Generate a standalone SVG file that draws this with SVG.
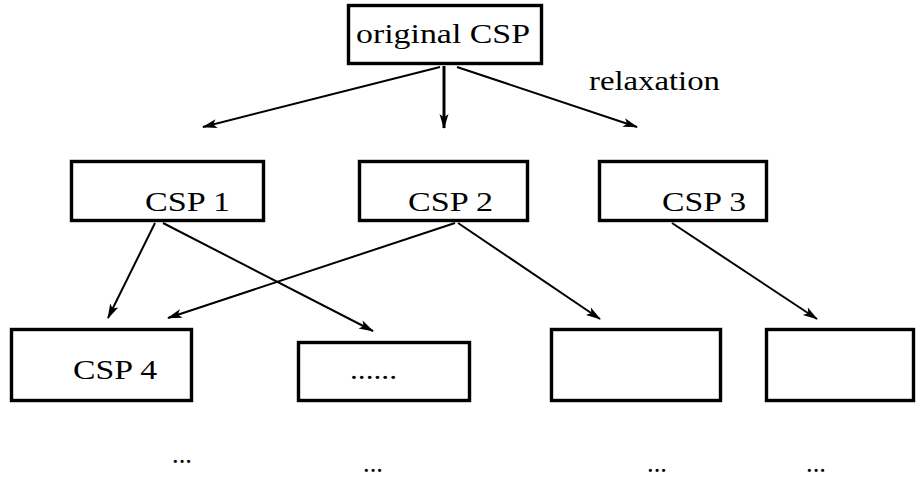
<svg xmlns="http://www.w3.org/2000/svg" width="916" height="482" viewBox="0 0 916 482">
<defs>
<style>
.box{fill:none;stroke:#000;stroke-width:3.4}
.t{font-family:"Liberation Serif","Times New Roman",serif;font-size:28px;fill:#000}
.c{stroke:#000;stroke-width:2;fill:none;marker-end:url(#ah)}
</style>
<marker id="ah" markerUnits="userSpaceOnUse" markerWidth="20" markerHeight="14" viewBox="-16 -7 18 14" refX="0" refY="0" orient="auto">
<path d="M1,0 L-14,-4.5 L-10.5,0 L-14,4.5 z" fill="#000"/>
</marker>
</defs>
<rect width="916" height="482" fill="#fff"/>
<g id="connectors">
<line class="c" x1="440" y1="67" x2="203" y2="127"/>
<line class="c" x1="444" y1="66" x2="444" y2="128" style="stroke-width:3"/>
<line class="c" x1="457" y1="67" x2="637" y2="127"/>
<line class="c" x1="155" y1="223" x2="108" y2="318"/>
<line class="c" x1="163" y1="223" x2="373" y2="331"/>
<line class="c" x1="455" y1="223" x2="168" y2="318"/>
<line class="c" x1="458" y1="223" x2="600" y2="319"/>
<line class="c" x1="672" y1="223" x2="817" y2="319"/>
</g>
<g id="relaxation-label"><text class="t" x="589" y="90" textLength="131" lengthAdjust="spacingAndGlyphs">relaxation</text></g>
<g id="original"><rect class="box" x="348.5" y="5.5" width="193" height="58"/><text class="t" x="356" y="43" textLength="174" lengthAdjust="spacingAndGlyphs">original CSP</text></g>
<g id="csp1"><rect class="box" x="71.5" y="161.5" width="192" height="59"/><text class="t" x="145" y="211" textLength="85" lengthAdjust="spacingAndGlyphs">CSP 1</text></g>
<g id="csp2"><rect class="box" x="359.5" y="161.5" width="168" height="59"/><text class="t" x="408" y="211" textLength="85" lengthAdjust="spacingAndGlyphs">CSP 2</text></g>
<g id="csp3"><rect class="box" x="599.5" y="161.5" width="167" height="59"/><text class="t" x="662" y="211" textLength="84" lengthAdjust="spacingAndGlyphs">CSP 3</text></g>
<g id="csp4"><rect class="box" x="11.5" y="329.5" width="180" height="71"/><text class="t" x="73" y="379" textLength="84" lengthAdjust="spacingAndGlyphs">CSP 4</text></g>
<g id="dots-node"><rect class="box" x="298.5" y="342.5" width="171" height="58"/><text class="t" x="350" y="379" textLength="47" lengthAdjust="spacingAndGlyphs">......</text></g>
<g id="node-empty1"><rect class="box" x="551.5" y="329.5" width="169" height="71"/></g>
<g id="node-empty2"><rect class="box" x="766.5" y="329.5" width="147" height="71"/></g>
<g id="ellipses">
<text class="t" x="172" y="463" textLength="20" lengthAdjust="spacingAndGlyphs">...</text>
<text class="t" x="363" y="472" textLength="20" lengthAdjust="spacingAndGlyphs">...</text>
<text class="t" x="647" y="472" textLength="20" lengthAdjust="spacingAndGlyphs">...</text>
<text class="t" x="806" y="472" textLength="20" lengthAdjust="spacingAndGlyphs">...</text>
</g>
</svg>
